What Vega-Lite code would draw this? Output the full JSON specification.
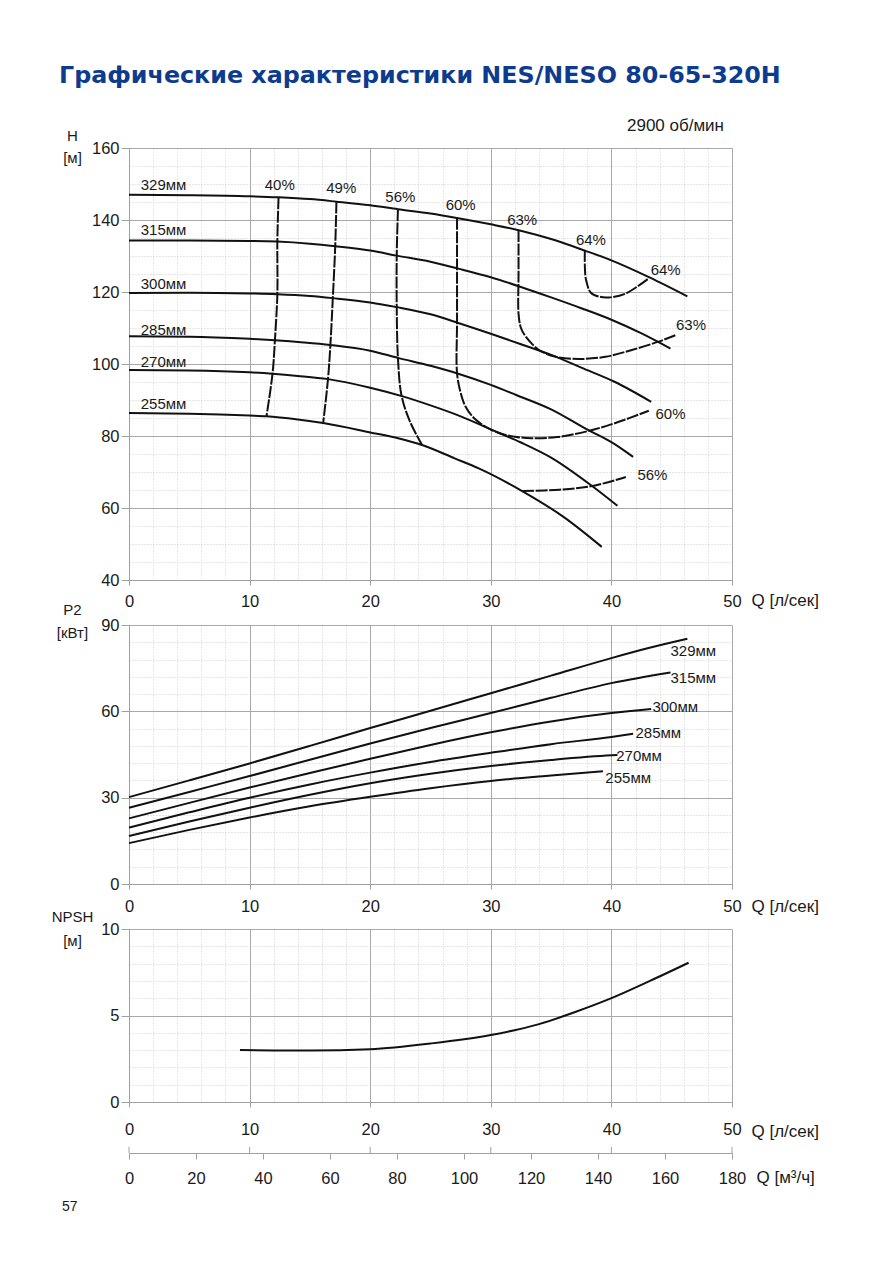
{
"$schema": "https://vega.github.io/schema/vega-lite/v6.json",
"padding": {"left": 51, "top": 64, "right": 10, "bottom": 10},
"background": "white",
"title": {"text": "Графические характеристики NES/NESO 80-65-320H", "anchor": "start", "frame": "group", "font": "DejaVu Sans", "fontSize": 23.8, "fontWeight": "bold", "color": "#0d3b8e", "offset": 29, "dx": -70},
"config": {
  "view": {"stroke": null},
  "font": "Liberation Sans",
  "axis": {"labelFont": "Liberation Sans", "labelFontSize": 16.5, "labelColor": "#1a1a1a", "titleFont": "Liberation Sans", "titleFontWeight": "normal", "titleColor": "#1a1a1a", "titleFontSize": 15, "domainColor": "#a0a0a0", "tickColor": "#a0a0a0", "gridWidth": 1, "labelOverlap": false, "labelFlush": false, "labelBound": false},
  "text": {"font": "Liberation Sans", "color": "#1a1a1a"}
},
"datasets": {
  "hq": [
    {"d":"329","Q":0,"H":147.0},{"d":"329","Q":5,"H":146.9},{"d":"329","Q":10,"H":146.6},{"d":"329","Q":12.4,"H":146.3},{"d":"329","Q":15,"H":145.8},{"d":"329","Q":17.2,"H":145.1},{"d":"329","Q":20,"H":144.1},{"d":"329","Q":22.3,"H":143.0},{"d":"329","Q":25,"H":141.8},{"d":"329","Q":27.3,"H":140.5},{"d":"329","Q":30,"H":138.8},{"d":"329","Q":32.4,"H":137.1},{"d":"329","Q":35,"H":134.7},{"d":"329","Q":37.8,"H":131.5},{"d":"329","Q":40,"H":128.8},{"d":"329","Q":43.2,"H":124.0},{"d":"329","Q":46.3,"H":118.8},
    {"d":"315","Q":0,"H":134.3},{"d":"315","Q":5,"H":134.3},{"d":"315","Q":10,"H":134.2},{"d":"315","Q":12.3,"H":134.0},{"d":"315","Q":15,"H":133.4},{"d":"315","Q":17.1,"H":132.7},{"d":"315","Q":20,"H":131.5},{"d":"315","Q":22.2,"H":130.1},{"d":"315","Q":25,"H":128.4},{"d":"315","Q":27.3,"H":126.5},{"d":"315","Q":30,"H":124.1},{"d":"315","Q":32.5,"H":121.4},{"d":"315","Q":35,"H":118.5},{"d":"315","Q":37.5,"H":115.5},{"d":"315","Q":40,"H":112.3},{"d":"315","Q":42.5,"H":108.5},{"d":"315","Q":44.9,"H":104.3},
    {"d":"300","Q":0,"H":119.7},{"d":"300","Q":5,"H":119.8},{"d":"300","Q":10,"H":119.6},{"d":"300","Q":12.3,"H":119.4},{"d":"300","Q":15,"H":118.9},{"d":"300","Q":16.9,"H":118.3},{"d":"300","Q":20,"H":117.1},{"d":"300","Q":22.2,"H":115.8},{"d":"300","Q":25,"H":113.8},{"d":"300","Q":27.3,"H":111.4},{"d":"300","Q":30,"H":108.4},{"d":"300","Q":32.5,"H":105.5},{"d":"300","Q":35.1,"H":102.4},{"d":"300","Q":37.5,"H":99.0},{"d":"300","Q":40.3,"H":95.0},{"d":"300","Q":43.3,"H":89.5},
    {"d":"285","Q":0,"H":107.7},{"d":"285","Q":5,"H":107.6},{"d":"285","Q":10,"H":107.0},{"d":"285","Q":12.1,"H":106.6},{"d":"285","Q":14.5,"H":106.0},{"d":"285","Q":16.7,"H":105.3},{"d":"285","Q":20,"H":103.7},{"d":"285","Q":22.3,"H":101.7},{"d":"285","Q":25,"H":99.5},{"d":"285","Q":27.3,"H":97.3},{"d":"285","Q":30,"H":94.2},{"d":"285","Q":32.1,"H":91.4},{"d":"285","Q":35,"H":87.4},{"d":"285","Q":38.1,"H":81.6},{"d":"285","Q":40,"H":78.3},{"d":"285","Q":41.8,"H":74.2},
    {"d":"270","Q":0,"H":98.3},{"d":"270","Q":5,"H":98.2},{"d":"270","Q":10,"H":97.7},{"d":"270","Q":11.9,"H":97.3},{"d":"270","Q":14,"H":96.7},{"d":"270","Q":16.5,"H":95.8},{"d":"270","Q":20,"H":93.4},{"d":"270","Q":22.7,"H":91.0},{"d":"270","Q":25,"H":88.5},{"d":"270","Q":27.4,"H":85.6},{"d":"270","Q":30.1,"H":81.7},{"d":"270","Q":32.5,"H":78.2},{"d":"270","Q":35,"H":74.0},{"d":"270","Q":38.4,"H":66.1},{"d":"270","Q":40.5,"H":60.6},
    {"d":"255","Q":0,"H":86.4},{"d":"255","Q":5,"H":86.2},{"d":"255","Q":10,"H":85.7},{"d":"255","Q":11.4,"H":85.5},{"d":"255","Q":14,"H":84.6},{"d":"255","Q":16.1,"H":83.6},{"d":"255","Q":20,"H":81.0},{"d":"255","Q":22.4,"H":79.3},{"d":"255","Q":24.3,"H":77.5},{"d":"255","Q":27,"H":73.8},{"d":"255","Q":29,"H":71.0},{"d":"255","Q":32.6,"H":64.7},{"d":"255","Q":36,"H":57.6},{"d":"255","Q":39.2,"H":49.2}
  ],
  "eff": [
    {"s":"40","i":0,"Q":12.4,"H":146.3},{"s":"40","i":1,"Q":12.3,"H":134.0},{"s":"40","i":2,"Q":12.3,"H":119.4},{"s":"40","i":3,"Q":12.1,"H":106.6},{"s":"40","i":4,"Q":11.9,"H":97.3},{"s":"40","i":5,"Q":11.4,"H":85.5},
    {"s":"49","i":0,"Q":17.2,"H":145.1},{"s":"49","i":1,"Q":17.1,"H":132.7},{"s":"49","i":2,"Q":16.9,"H":118.3},{"s":"49","i":3,"Q":16.7,"H":105.3},{"s":"49","i":4,"Q":16.5,"H":95.8},{"s":"49","i":5,"Q":16.1,"H":83.6},
    {"s":"56a","i":0,"Q":22.3,"H":143.0},{"s":"56a","i":1,"Q":22.2,"H":130.1},{"s":"56a","i":2,"Q":22.2,"H":115.8},{"s":"56a","i":3,"Q":22.3,"H":101.7},{"s":"56a","i":4,"Q":22.6,"H":91.2},{"s":"56a","i":5,"Q":23.3,"H":84.0},{"s":"56a","i":6,"Q":24.3,"H":77.5},
    {"s":"56b","i":0,"Q":32.6,"H":64.7},{"s":"56b","i":1,"Q":35.7,"H":65.1},{"s":"56b","i":2,"Q":38.4,"H":66.1},{"s":"56b","i":3,"Q":41.2,"H":68.6},
    {"s":"60","i":0,"Q":27.2,"H":140.6},{"s":"60","i":1,"Q":27.2,"H":126.6},{"s":"60","i":2,"Q":27.2,"H":111.6},{"s":"60","i":3,"Q":27.2,"H":97.5},{"s":"60","i":4,"Q":27.5,"H":92.0},{"s":"60","i":5,"Q":27.9,"H":88.2},{"s":"60","i":6,"Q":28.6,"H":85.0},{"s":"60","i":7,"Q":29.6,"H":82.5},{"s":"60","i":8,"Q":30.6,"H":80.9},{"s":"60","i":9,"Q":32.0,"H":79.8},{"s":"60","i":10,"Q":33.4,"H":79.4},{"s":"60","i":11,"Q":35.5,"H":79.7},{"s":"60","i":12,"Q":38.1,"H":81.4},{"s":"60","i":13,"Q":40.5,"H":83.8},{"s":"60","i":14,"Q":43.1,"H":87.0},
    {"s":"63","i":0,"Q":32.3,"H":137.2},{"s":"63","i":1,"Q":32.3,"H":125.0},{"s":"63","i":2,"Q":32.3,"H":114.0},{"s":"63","i":3,"Q":32.5,"H":110.0},{"s":"63","i":4,"Q":32.9,"H":107.6},{"s":"63","i":5,"Q":34.0,"H":103.9},{"s":"63","i":6,"Q":35.4,"H":102.0},{"s":"63","i":7,"Q":37.3,"H":101.4},{"s":"63","i":8,"Q":39.5,"H":102.0},{"s":"63","i":9,"Q":41.7,"H":103.9},{"s":"63","i":10,"Q":43.9,"H":106.2},{"s":"63","i":11,"Q":45.3,"H":108.0},
    {"s":"64","i":0,"Q":37.8,"H":131.7},{"s":"64","i":1,"Q":37.8,"H":127.0},{"s":"64","i":2,"Q":37.9,"H":123.3},{"s":"64","i":3,"Q":38.3,"H":119.8},{"s":"64","i":4,"Q":39.0,"H":118.7},{"s":"64","i":5,"Q":39.8,"H":118.5},{"s":"64","i":6,"Q":41.2,"H":119.6},{"s":"64","i":7,"Q":43.1,"H":123.8}
  ],
  "hqLab": [
    {"t":"329мм","Q":0.97,"H":149.6},{"t":"315мм","Q":0.97,"H":137.1},{"t":"300мм","Q":0.97,"H":122.3},{"t":"285мм","Q":0.97,"H":109.5},{"t":"270мм","Q":0.97,"H":100.6},{"t":"255мм","Q":0.97,"H":89.0}
  ],
  "effLab": [
    {"t":"40%","Q":12.5,"H":149.8},{"t":"49%","Q":17.6,"H":148.8},{"t":"56%","Q":22.5,"H":146.5},{"t":"60%","Q":27.5,"H":144.3},{"t":"63%","Q":32.6,"H":140.1},{"t":"64%","Q":38.3,"H":134.5},{"t":"64%","Q":44.5,"H":126.2},{"t":"63%","Q":46.6,"H":110.8},{"t":"60%","Q":44.9,"H":86.1},{"t":"56%","Q":43.4,"H":69.3}
  ],
  "p2": [
    {"d":"329","Q":0,"P":30.2},{"d":"329","Q":5,"P":36.0},{"d":"329","Q":10,"P":41.9},{"d":"329","Q":15,"P":48.0},{"d":"329","Q":20,"P":54.2},{"d":"329","Q":25,"P":60.2},{"d":"329","Q":30,"P":66.3},{"d":"329","Q":35,"P":72.4},{"d":"329","Q":40,"P":78.5},{"d":"329","Q":43,"P":81.9},{"d":"329","Q":46.3,"P":85.2},
    {"d":"315","Q":0,"P":26.5},{"d":"315","Q":5,"P":32.0},{"d":"315","Q":10,"P":37.5},{"d":"315","Q":15,"P":43.2},{"d":"315","Q":20,"P":48.8},{"d":"315","Q":25,"P":54.2},{"d":"315","Q":30,"P":59.4},{"d":"315","Q":35,"P":64.7},{"d":"315","Q":40,"P":69.8},{"d":"315","Q":44.9,"P":73.5},
    {"d":"300","Q":0,"P":22.8},{"d":"300","Q":5,"P":28.2},{"d":"300","Q":10,"P":33.5},{"d":"300","Q":15,"P":38.6},{"d":"300","Q":20,"P":43.5},{"d":"300","Q":25,"P":48.3},{"d":"300","Q":30,"P":52.7},{"d":"300","Q":35,"P":56.5},{"d":"300","Q":40,"P":59.4},{"d":"300","Q":43.3,"P":60.8},
    {"d":"285","Q":0,"P":19.6},{"d":"285","Q":5,"P":24.9},{"d":"285","Q":10,"P":30.0},{"d":"285","Q":15,"P":34.6},{"d":"285","Q":20,"P":38.7},{"d":"285","Q":25,"P":42.4},{"d":"285","Q":30,"P":45.6},{"d":"285","Q":35,"P":48.6},{"d":"285","Q":40,"P":51.1},{"d":"285","Q":41.8,"P":52.2},
    {"d":"270","Q":0,"P":16.7},{"d":"270","Q":5,"P":21.7},{"d":"270","Q":10,"P":26.5},{"d":"270","Q":15,"P":31.0},{"d":"270","Q":20,"P":35.0},{"d":"270","Q":25,"P":38.3},{"d":"270","Q":30,"P":41.0},{"d":"270","Q":35,"P":43.1},{"d":"270","Q":40,"P":44.7},{"d":"270","Q":40.5,"P":44.8},
    {"d":"255","Q":0,"P":14.2},{"d":"255","Q":5,"P":18.8},{"d":"255","Q":10,"P":23.1},{"d":"255","Q":15,"P":27.0},{"d":"255","Q":20,"P":30.3},{"d":"255","Q":25,"P":33.3},{"d":"255","Q":30,"P":35.8},{"d":"255","Q":35,"P":37.7},{"d":"255","Q":39.3,"P":39.2}
  ],
  "p2Lab": [
    {"t":"329мм","Q":44.9,"P":80.9},{"t":"315мм","Q":44.9,"P":71.6},{"t":"300мм","Q":43.4,"P":61.6},{"t":"285мм","Q":42.0,"P":52.3},{"t":"270мм","Q":40.4,"P":44.5},{"t":"255мм","Q":39.5,"P":36.9}
  ],
  "npsh": [
    {"Q":9.2,"N":3.0},{"Q":12,"N":2.98},{"Q":15,"N":2.97},{"Q":20,"N":3.05},{"Q":25,"N":3.38},{"Q":30,"N":3.87},{"Q":34,"N":4.5},{"Q":37,"N":5.2},{"Q":40,"N":6.0},{"Q":43.2,"N":7.0},{"Q":46.4,"N":8.05}
  ],
  "lsTicks": [{"Q":0},{"Q":10},{"Q":20},{"Q":30},{"Q":40},{"Q":50}]
},
"vconcat": [
  {
    "width": 603, "height": 432,
    "title": {"text": "2900 об/мин", "anchor": "end", "orient": "top", "frame": "group", "font": "Liberation Sans", "fontSize": 17, "fontWeight": "normal", "color": "#1a1a1a", "offset": -7, "dx": -8},
    "encoding": {
      "x": {"field": "Q", "type": "quantitative", "scale": {"domain": [0, 50], "nice": false, "zero": false},
        "axis": {"values": [0,2,4,6,8,10,12,14,16,18,20,22,24,26,28,30,32,34,36,38,40,42,44,46,48,50],
          "labelExpr": "datum.value % 10 === 0 ? datum.label : ''",
          "gridColor": {"condition": {"test": "datum.value % 10 === 0", "value": "#a8a8a8"}, "value": "#cccccc"},
          "gridDash": {"condition": {"test": "datum.value % 10 === 0", "value": []}, "value": [1, 2]},
          "tickOpacity": {"condition": {"test": "datum.value % 10 === 0", "value": 1}, "value": 0},
          "tickSize": 5, "labelPadding": 8,
          "title": "Q [л/сек]", "titleX": 622, "titleY": 20, "titleAlign": "left", "titleBaseline": "middle", "titleFontSize": 17, "titleAngle": 0}},
      "y": {"field": "H", "type": "quantitative", "scale": {"domain": [40, 160], "nice": false, "zero": false},
        "axis": {"values": [40,45,50,55,60,65,70,75,80,85,90,95,100,105,110,115,120,125,130,135,140,145,150,155,160],
          "labelExpr": "datum.value % 20 === 0 ? datum.label : ''",
          "gridColor": {"condition": {"test": "datum.value % 20 === 0", "value": "#a8a8a8"}, "value": "#cccccc"},
          "gridDash": {"condition": {"test": "datum.value % 20 === 0", "value": []}, "value": [1, 2]},
          "tickOpacity": {"condition": {"test": "datum.value % 20 === 0", "value": 1}, "value": 0},
          "tickSize": 8, "labelPadding": 2,
          "title": ["H", "[м]"], "titleAngle": 0, "titleX": -57, "titleY": -8, "titleAlign": "center", "titleBaseline": "alphabetic", "titleLineHeight": 22}}
    },
    "layer": [
      {"data": {"name": "hq"}, "mark": {"type": "line", "color": "#111111", "strokeWidth": 2, "interpolate": "monotone"},
       "encoding": {"detail": {"field": "d"}}},
      {"data": {"name": "eff"}, "mark": {"type": "line", "color": "#111111", "strokeWidth": 2, "strokeDash": [12, 1.5], "interpolate": "catmull-rom"},
       "encoding": {"detail": {"field": "s"}, "order": {"field": "i", "type": "quantitative"}}},
      {"data": {"name": "hqLab"}, "mark": {"type": "text", "align": "left", "baseline": "middle", "fontSize": 15},
       "encoding": {"text": {"field": "t"}}},
      {"data": {"name": "effLab"}, "mark": {"type": "text", "align": "center", "baseline": "middle", "fontSize": 15},
       "encoding": {"text": {"field": "t"}}}
    ]
  },
  {
    "width": 603, "height": 259,
    "encoding": {
      "x": {"field": "Q", "type": "quantitative", "scale": {"domain": [0, 50], "nice": false, "zero": false},
        "axis": {"values": [0,2,4,6,8,10,12,14,16,18,20,22,24,26,28,30,32,34,36,38,40,42,44,46,48,50],
          "labelExpr": "datum.value % 10 === 0 ? datum.label : ''",
          "gridColor": {"condition": {"test": "datum.value % 10 === 0", "value": "#a8a8a8"}, "value": "#cccccc"},
          "gridDash": {"condition": {"test": "datum.value % 10 === 0", "value": []}, "value": [1, 2]},
          "tickOpacity": {"condition": {"test": "datum.value % 10 === 0", "value": 1}, "value": 0},
          "tickSize": 5, "labelPadding": 9,
          "title": "Q [л/сек]", "titleX": 622, "titleY": 22, "titleAlign": "left", "titleBaseline": "middle", "titleFontSize": 17, "titleAngle": 0}},
      "y": {"field": "P", "type": "quantitative", "scale": {"domain": [0, 90], "nice": false},
        "axis": {"values": [0,6,12,18,24,30,36,42,48,54,60,66,72,78,84,90],
          "labelExpr": "datum.value % 30 === 0 ? datum.label : ''",
          "gridColor": {"condition": {"test": "datum.value % 30 === 0", "value": "#a8a8a8"}, "value": "#cccccc"},
          "gridDash": {"condition": {"test": "datum.value % 30 === 0", "value": []}, "value": [1, 2]},
          "tickOpacity": {"condition": {"test": "datum.value % 30 === 0", "value": 1}, "value": 0},
          "tickSize": 8, "labelPadding": 2,
          "title": ["P2", "[кВт]"], "titleAngle": 0, "titleX": -57, "titleY": -11, "titleAlign": "center", "titleBaseline": "alphabetic", "titleLineHeight": 23}}
    },
    "layer": [
      {"data": {"name": "p2"}, "mark": {"type": "line", "color": "#111111", "strokeWidth": 2, "interpolate": "monotone"},
       "encoding": {"detail": {"field": "d"}}},
      {"data": {"name": "p2Lab"}, "mark": {"type": "text", "align": "left", "baseline": "middle", "fontSize": 15},
       "encoding": {"text": {"field": "t"}}}
    ]
  },
  {
    "width": 603, "height": 173,
    "data": {"name": "npsh"},
    "mark": {"type": "line", "color": "#111111", "strokeWidth": 2, "interpolate": "monotone"},
    "encoding": {
      "x": {"field": "Q", "type": "quantitative", "scale": {"domain": [0, 50], "nice": false, "zero": false},
        "axis": {"values": [0,2,4,6,8,10,12,14,16,18,20,22,24,26,28,30,32,34,36,38,40,42,44,46,48,50],
          "labelExpr": "datum.value % 10 === 0 ? datum.label : ''",
          "gridColor": {"condition": {"test": "datum.value % 10 === 0", "value": "#a8a8a8"}, "value": "#cccccc"},
          "gridDash": {"condition": {"test": "datum.value % 10 === 0", "value": []}, "value": [1, 2]},
          "tickOpacity": {"condition": {"test": "datum.value % 10 === 0", "value": 1}, "value": 0},
          "tickSize": 5, "labelPadding": 14,
          "title": "Q [л/сек]", "titleX": 622, "titleY": 29, "titleAlign": "left", "titleBaseline": "middle", "titleFontSize": 17, "titleAngle": 0}},
      "y": {"field": "N", "type": "quantitative", "scale": {"domain": [0, 10], "nice": false},
        "axis": {"values": [0,1,2,3,4,5,6,7,8,9,10],
          "labelExpr": "datum.value % 5 === 0 ? datum.label : ''",
          "gridColor": {"condition": {"test": "datum.value % 5 === 0", "value": "#a8a8a8"}, "value": "#cccccc"},
          "gridDash": {"condition": {"test": "datum.value % 5 === 0", "value": []}, "value": [1, 2]},
          "tickOpacity": {"condition": {"test": "datum.value % 5 === 0", "value": 1}, "value": 0},
          "tickSize": 8, "labelPadding": 2,
          "title": ["NPSH", "[м]"], "titleAngle": 0, "titleX": -57, "titleY": -8, "titleAlign": "center", "titleBaseline": "alphabetic", "titleLineHeight": 24}}
    }
  },
  {
    "width": 603, "height": 6,
    "title": {"text": "57", "orient": "bottom", "anchor": "start", "frame": "group", "font": "Liberation Sans", "fontSize": 14, "fontWeight": "normal", "color": "#1a1a1a", "offset": 13, "dx": -67},
    "data": {"name": "lsTicks"},
    "mark": {"type": "rule", "color": "#a0a0a0", "strokeWidth": 1},
    "encoding": {
      "x": {"field": "Q", "type": "quantitative", "scale": {"domain": [0, 50], "nice": false, "zero": false},
        "axis": {"values": [0, 5.555556, 11.111111, 16.666667, 22.222222, 27.777778, 33.333333, 38.888889, 44.444444, 50],
          "labelExpr": "format(datum.value * 3.6, '.0f')",
          "grid": false, "tickSize": 6, "labelPadding": 11, "domain": true,
          "title": "Q [м³/ч]", "titleX": 627, "titleY": 24, "titleAlign": "left", "titleBaseline": "middle", "titleFontSize": 17, "titleAngle": 0}}
    }
  }
],
"spacing": 45,
"bounds": "flush"
}
